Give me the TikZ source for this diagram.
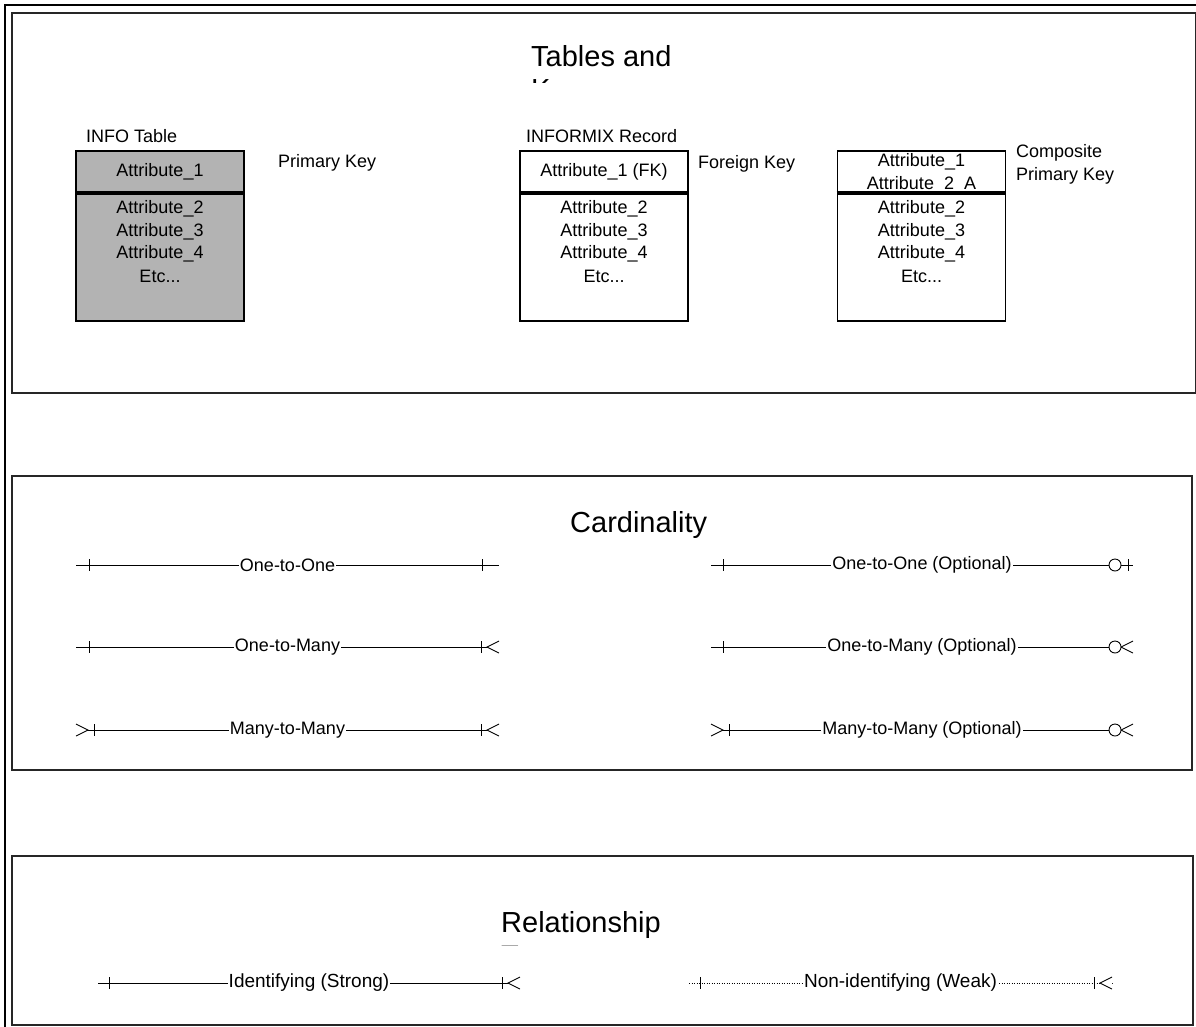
\documentclass[tikz,border=0pt]{standalone}
\usepackage{fontspec}
\setmainfont{Liberation Sans}
\usetikzlibrary{positioning}

\definecolor{infogray}{RGB}{179,179,179}

% Marks at the ends of a relationship line
\newcommand{\cardtick}[2]{\draw[rel] ([xshift=#2]#1) +(0,-6) -- +(0,6);}
\newcommand{\crowR}[1]{\draw[rel,fill=white] (#1) +(0,-6) -- +(-12,0) -- +(0,6);}
\newcommand{\crowL}[1]{\draw[rel,fill=white] (#1) +(0,-6) -- +(12,0) -- +(0,6);}
\newcommand{\optring}[1]{\draw[rel,fill=white] ([xshift=-18]#1) circle (6);}

\tikzset{
  panel/.style={draw=black!85, line width=2},
  keybox/.style={draw, line width=1.8, minimum width=168, minimum height=41,
    inner sep=0, align=center, font=\fontsize{18}{22.4}\selectfont},
  bodybox/.style={draw, line width=1.8, minimum width=168, minimum height=127, inner sep=0},
  attr/.style={inner sep=0, font=\fontsize{18}{22.4}\selectfont},
  heading/.style={inner sep=0, anchor=base west, font=\fontsize{29}{33}\selectfont},
  note/.style={inner sep=0, anchor=west, align=left, font=\fontsize{18}{22.4}\selectfont},
  rel/.style={line width=0.9},
  lbl/.style={fill=white, inner sep=1, font=\fontsize{18}{21}\selectfont},
  rellbl/.style={lbl, font=\fontsize{19}{22}\selectfont},
}

\begin{document}
\begin{tikzpicture}[x=1pt,y=-1pt]
\useasboundingbox (0,0) rectangle (1196,1026);

% Outer frame and the three panels
\draw[line width=2] (5,1030) -- (5,5) -- (1200,5);
\draw[panel] (12,13) rectangle (1196,393);
\draw[panel] (12,476) rectangle (1192,770);
\draw[panel] (12,856) rectangle (1193,1025);

% Tables and keys
\begin{scope}
  \clip (0,0) rectangle (1196,82.5);
  \node[heading] (tabhead) at (531,66) {Tables and};
  \node[heading] (tabnext) at (531,99) {Keys};
\end{scope}

\node[note] (infolbl) at (86,136) {INFO Table};
\node[keybox, fill=infogray] (infokey) at (160,171.5) {Attribute\_1};
\node[bodybox, fill=infogray, below=0 of infokey] (infobody) {};
\draw[line width=3] (infokey.south west) -- (infokey.south east);
\node[note] (pklbl) at (278,163) {Primary Key};

\node[note] (reclbl) at (526,136) {INFORMIX Record};
\node[keybox] (reckey) at (604,171.5) {Attribute\_1 (FK)};
\node[bodybox, below=0 of reckey] (recbody) {};
\draw[line width=3] (reckey.south west) -- (reckey.south east);
\node[note] (fklbl) at (698,164) {Foreign Key};

\node[keybox, text depth=0] (compkey) at (921.5,171.5) {Attribute\_1\\Attribute\_2\_A};
\node[bodybox, below=0 of compkey] (compbody) {};
\draw[line width=3] (compkey.south west) -- (compkey.south east);
\node[note] (cpklbl) at (1016,164.5) {Composite\\Primary Key};

% Attribute lists
\foreach \tb/\cx in {info/160, rec/604, comp/921.5} {
  \foreach \txt [count=\k] in {Attribute\_2, Attribute\_3, Attribute\_4, {Etc{...}}}
    \node[attr] (\tb-\k) at (\cx,186.6+22.4*\k) {\txt};
}

% Cardinality
\node[heading] (cardhead) at (570,532) {Cardinality};

\coordinate (oo-a) at (76,565);   \coordinate (oo-b) at (499,565);
\coordinate (om-a) at (76,647);   \coordinate (om-b) at (499,647);
\coordinate (mm-a) at (76,730);   \coordinate (mm-b) at (499,730);
\coordinate (ooo-a) at (711,565); \coordinate (ooo-b) at (1133,565);
\coordinate (omo-a) at (711,647); \coordinate (omo-b) at (1133,647);
\coordinate (mmo-a) at (711,730); \coordinate (mmo-b) at (1133,730);

\draw[rel] (oo-a) -- node[lbl] (oo-t) {One-to-One} (oo-b);
\cardtick{oo-a}{13} \cardtick{oo-b}{-17}

\draw[rel] (om-a) -- node[lbl] (om-t) {One-to-Many} (om-b);
\cardtick{om-a}{13} \cardtick{om-b}{-18} \crowR{om-b}

\draw[rel] (mm-a) -- node[lbl] (mm-t) {Many-to-Many} (mm-b);
\crowL{mm-a} \cardtick{mm-a}{18} \cardtick{mm-b}{-18} \crowR{mm-b}

\draw[rel] (ooo-a) -- node[lbl] (ooo-t) {One-to-One (Optional)} (ooo-b);
\cardtick{ooo-a}{12} \optring{ooo-b} \cardtick{ooo-b}{-5}

\draw[rel] (omo-a) -- node[lbl] (omo-t) {One-to-Many (Optional)} (omo-b);
\cardtick{omo-a}{12} \crowR{omo-b} \optring{omo-b}

\draw[rel] (mmo-a) -- node[lbl] (mmo-t) {Many-to-Many (Optional)} (mmo-b);
\crowL{mmo-a} \cardtick{mmo-a}{18} \crowR{mmo-b} \optring{mmo-b}

% Relationship
\begin{scope}
  \clip (0,0) rectangle (1196,945.6);
  \node[heading] (relhead) at (501,932) {Relationship};
  \node[heading, text=black!35] (relnext) at (501,965) {Types};
\end{scope}

\coordinate (id-a) at (98,983);   \coordinate (id-b) at (520,983);
\coordinate (nid-a) at (689,983); \coordinate (nid-b) at (1112,983);

\draw[rel] (id-a) -- node[rellbl] (id-t) {Identifying (Strong)} (id-b);
\cardtick{id-a}{11} \cardtick{id-b}{-18} \crowR{id-b}

\draw[rel, dash pattern=on 1 off 1.5] (nid-a) -- node[rellbl] (nid-t) {Non-identifying (Weak)} (nid-b);
\cardtick{nid-a}{11} \cardtick{nid-b}{-18} \crowR{nid-b}

\end{tikzpicture}
\end{document}
